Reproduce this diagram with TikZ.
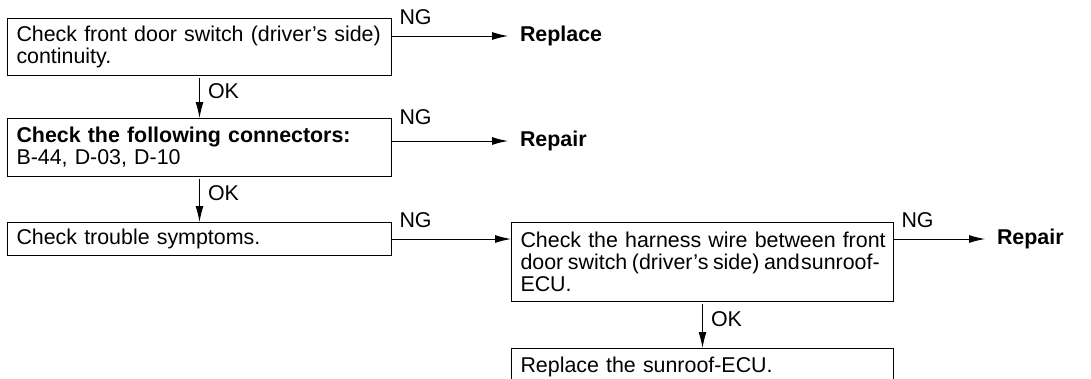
\documentclass[tikz,border=0pt]{standalone}
\usepackage{fontspec}
\setmainfont{Liberation Sans}
\usetikzlibrary{arrows.meta,positioning}

\begin{document}
\begin{tikzpicture}[
    x=1pt,y=-1pt,
    font=\fontsize{21.4}{22}\selectfont,
    line width=1pt,
    box/.style={draw,anchor=north west,text width=366pt,inner xsep=9pt,inner ysep=2pt,align=left},
    result/.style={font=\fontsize{21.4}{22}\selectfont\bfseries,anchor=west,inner sep=0pt,outer xsep=12pt},
    ng/.style={pos=0,anchor=base west,inner sep=0pt,xshift=7pt,yshift=12pt},
    ok/.style={anchor=west,inner sep=0pt,xshift=8pt,yshift=6pt},
    >={Latex[length=16pt,width=8pt]}]
  \useasboundingbox (0,0) rectangle (1091,378);
  \fill[white] (0,0) rectangle (1091,378);
  \clip (0,0) rectangle (1091,378);
  % left column
  \node[box,minimum height=57pt] (chkswitch) at (7,18) {\mbox{Check front door switch (driver’s side)}\\continuity.};
  \node[box,minimum height=58pt] (chkconn) at (7,118) {\textbf{Check the following connectors:}\\B-44, D-03, D-10};
  \node[box,minimum height=33pt] (chktrouble) at (7,222) {Check trouble symptoms.};
  % right column
  \node[box,text width=364pt,minimum height=79pt] (chkharness) at (511,222) {\mbox{Check the harness wire between front}\\\mbox{\spaceskip=4.6pt door switch (driver’s side) and\hspace{1.5pt}sunroof-}\\ECU.};
  \node[box,text width=364pt,minimum height=36pt] (replecu) at (511,348) {Replace the sunroof-ECU.};
  % results
  \node[result] (replace) at (508,36) {Replace};
  \node[result] (repairconn) at (508,141) {Repair};
  \node[result] (repairharness) at (985,239) {Repair};
  % connectors
  \draw[->] (replace -| chkswitch.east) -- node[ng]{NG} (replace);
  \draw[->] (repairconn -| chkconn.east) -- node[ng,yshift=5pt]{NG} (repairconn);
  \draw[->] (chktrouble) -- node[ng]{NG} (chktrouble -| chkharness.west);
  \draw[->] (repairharness -| chkharness.east) -- node[ng]{NG} (repairharness);
  \draw[->,shorten <=2pt] (chkswitch) -- node[ok]{OK} (chkconn);
  \draw[->,shorten <=2pt] (chkconn) -- node[ok]{OK} (chktrouble);
  \draw[->,shorten <=2pt] (chkharness) -- node[ok]{OK} (replecu);
\end{tikzpicture}
\end{document}
